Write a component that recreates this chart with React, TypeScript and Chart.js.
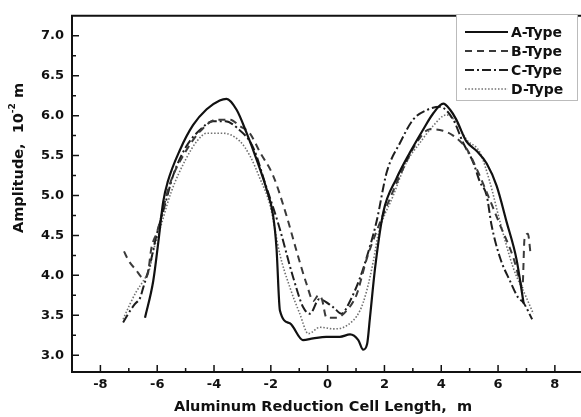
import React, { useEffect, useRef } from 'react';
import { Chart, registerables } from 'chart.js';
Chart.register(...registerables);

const seriesNames = ['A-Type', 'B-Type', 'C-Type', 'D-Type'];

const aX = [-6.43, -6.14, -5.96, -5.79, -5.63, -5.2, -4.74, -4.26, -3.8, -3.56, -3.2, -2.85, -2.5, -2.15, -1.92, -1.8, -1.68, -1.33, -0.87, -0.51, -0.05, 0.43, 0.79, 1.08, 1.25, 1.39, 1.49, 1.67, 1.96, 2.42, 2.9, 3.37, 3.72, 4.07, 4.3, 4.53, 4.88, 5.24, 5.6, 5.95, 6.3, 6.65, 6.9];
const aY = [3.47, 3.93, 4.42, 4.92, 5.17, 5.57, 5.88, 6.08, 6.19, 6.21, 6.07, 5.78, 5.45, 5.08, 4.75, 4.34, 3.56, 3.4, 3.19, 3.21, 3.23, 3.23, 3.26, 3.19, 3.07, 3.14, 3.47, 4.09, 4.79, 5.21, 5.54, 5.83, 6.03, 6.15, 6.08, 5.95, 5.68, 5.56, 5.4, 5.12, 4.67, 4.2, 3.65];

const bX = [-7.17, -7.0, -6.75, -6.5, -6.35, -6.2, -6.0, -5.55, -5.0, -4.5, -3.91, -3.44, -3.09, -2.74, -2.38, -1.92, -1.45, -1.09, -0.74, -0.5, -0.33, -0.2, -0.04, 0.32, 0.67, 1.02, 1.37, 1.72, 2.19, 2.65, 3.13, 3.6, 4.06, 4.42, 4.9, 5.25, 5.6, 6.07, 6.54, 6.77, 6.86, 6.93, 7.05, 7.15];
const bY = [4.3, 4.18, 4.07, 3.97, 4.0, 4.35, 4.55, 5.15, 5.55, 5.8, 5.95, 5.95, 5.87, 5.78, 5.54, 5.25, 4.75, 4.3, 3.89, 3.68, 3.75, 3.7, 3.47, 3.47, 3.56, 3.76, 4.2, 4.55, 4.96, 5.33, 5.66, 5.83, 5.81, 5.75, 5.58, 5.33, 5.04, 4.63, 4.22, 3.93, 3.85, 4.45, 4.52, 4.25];

const cX = [-7.2, -7.02, -6.79, -6.6, -6.49, -6.32, -6.2, -6.08, -5.96, -5.73, -5.44, -5.0, -4.5, -4.03, -3.6, -3.2, -2.62, -2.2, -1.74, -1.21, -0.86, -0.62, -0.3, 0.2, 0.49, 0.79, 1.14, 1.37, 1.72, 2.08, 2.55, 3.01, 3.49, 3.95, 4.42, 4.77, 5.13, 5.36, 5.6, 5.77, 6.07, 6.42, 6.71, 6.89, 7.2];
const cY = [3.41, 3.52, 3.64, 3.72, 3.85, 4.05, 4.22, 4.42, 4.59, 4.88, 5.25, 5.6, 5.82, 5.93, 5.93, 5.85, 5.6, 5.15, 4.65, 3.97, 3.6, 3.52, 3.7, 3.6, 3.52, 3.68, 3.97, 4.22, 4.67, 5.29, 5.66, 5.95, 6.07, 6.11, 5.95, 5.66, 5.41, 5.17, 5.0, 4.63, 4.22, 3.93, 3.72, 3.66, 3.45];

const dX = [-7.2, -6.96, -6.73, -6.49, -6.26, -6.14, -5.96, -5.5, -5.0, -4.6, -4.26, -3.68, -3.09, -2.74, -2.38, -2.03, -1.68, -1.33, -0.98, -0.68, -0.27, 0.2, 0.67, 1.14, 1.37, 1.61, 1.78, 2.31, 2.77, 3.25, 3.71, 4.18, 4.54, 4.89, 5.36, 5.71, 6.07, 6.54, 7.0, 7.24];
const dY = [3.45, 3.64, 3.8, 3.93, 4.09, 4.3, 4.51, 5.05, 5.45, 5.68, 5.78, 5.78, 5.68, 5.5, 5.21, 4.88, 4.26, 3.85, 3.52, 3.27, 3.35, 3.33, 3.37, 3.56, 3.8, 4.18, 4.51, 5.0, 5.41, 5.66, 5.87, 6.01, 5.91, 5.7, 5.54, 5.17, 4.67, 4.09, 3.72, 3.52];

const xTickValues = [-8, -6, -4, -2, 0, 2, 4, 6, 8];
const xMinorValues = [-7, -5, -3, -1, 1, 3, 5, 7];
const yTickValues = [3.0, 3.5, 4.0, 4.5, 5.0, 5.5, 6.0, 6.5, 7.0];
const yMinorValues = [3.25, 3.75, 4.25, 4.75, 5.25, 5.75, 6.25, 6.75];

const xTitle = 'Aluminum Reduction Cell Length,  m';
const yTitleMain = 'Amplitude,  10';
const yTitleSup = '-2';
const yTitleUnit = ' m';

const FONT = '"DejaVu Sans", "Liberation Sans", Arial, sans-serif';

const styles = [
  { color: '#111111', width: 2.2, dash: [] as number[] },
  { color: '#3a3a3a', width: 2, dash: [7, 5] },
  { color: '#1e1e1e', width: 2, dash: [9, 3, 2, 3] },
  { color: '#707070', width: 1.6, dash: [1.5, 1.8] },
];

const pts = (xs: number[], ys: number[]) => xs.map((x, i) => ({ x, y: ys[i] }));

const framePlugin = {
  id: 'frame',
  afterDraw(chart: any) {
    const { ctx, chartArea: ca, scales } = chart;
    const xs = scales.x;
    const ys = scales.y;
    ctx.save();
    ctx.strokeStyle = '#111';
    ctx.lineWidth = 2;
    ctx.setLineDash([]);
    ctx.beginPath();
    ctx.moveTo(chart.width, ca.top);
    ctx.lineTo(ca.left, ca.top);
    ctx.lineTo(ca.left, ca.bottom);
    ctx.lineTo(chart.width, ca.bottom);
    ctx.stroke();
    ctx.lineWidth = 1.5;
    ctx.beginPath();
    xTickValues.forEach((v) => {
      const p = xs.getPixelForValue(v);
      ctx.moveTo(p, ca.bottom);
      ctx.lineTo(p, ca.bottom - 7);
    });
    xMinorValues.forEach((v) => {
      const p = xs.getPixelForValue(v);
      ctx.moveTo(p, ca.bottom);
      ctx.lineTo(p, ca.bottom - 4);
    });
    yTickValues.forEach((v) => {
      const p = ys.getPixelForValue(v);
      ctx.moveTo(ca.left, p);
      ctx.lineTo(ca.left + 7, p);
    });
    yMinorValues.forEach((v) => {
      const p = ys.getPixelForValue(v);
      ctx.moveTo(ca.left, p);
      ctx.lineTo(ca.left + 4, p);
    });
    ctx.stroke();

    // axis titles
    ctx.fillStyle = '#111';
    ctx.font = `bold 14.5px ${FONT}`;
    ctx.textAlign = 'center';
    ctx.textBaseline = 'middle';
    ctx.fillText(xTitle, 323, 407);

    ctx.save();
    ctx.translate(19, 158);
    ctx.rotate(-Math.PI / 2);
    ctx.font = `bold 14.5px ${FONT}`;
    const w1 = ctx.measureText(yTitleMain).width;
    ctx.font = `bold 9px ${FONT}`;
    const w2 = ctx.measureText(yTitleSup).width;
    ctx.font = `bold 14.5px ${FONT}`;
    const w3 = ctx.measureText(yTitleUnit).width;
    const total = w1 + w2 + w3;
    let x0 = -total / 2;
    ctx.textAlign = 'left';
    ctx.fillText(yTitleMain, x0, 0);
    x0 += w1;
    ctx.font = `bold 9px ${FONT}`;
    ctx.fillText(yTitleSup, x0, -6);
    x0 += w2;
    ctx.font = `bold 14.5px ${FONT}`;
    ctx.fillText(yTitleUnit, x0, 0);
    ctx.restore();

    // legend
    ctx.fillStyle = '#fff';
    ctx.fillRect(456, 14, 122, 87);
    ctx.strokeStyle = '#777';
    ctx.lineWidth = 1;
    ctx.setLineDash([1, 1]);
    ctx.strokeRect(456.5, 14.5, 121, 86);
    const rows = [32, 51, 70, 89];
    seriesNames.forEach((name, i) => {
      const st = styles[i];
      ctx.strokeStyle = st.color;
      ctx.lineWidth = st.width;
      ctx.setLineDash(st.dash);
      ctx.beginPath();
      ctx.moveTo(465, rows[i]);
      ctx.lineTo(508, rows[i]);
      ctx.stroke();
      ctx.setLineDash([]);
      ctx.fillStyle = '#111';
      ctx.font = `bold 14px ${FONT}`;
      ctx.textAlign = 'left';
      ctx.textBaseline = 'middle';
      ctx.fillText(name, 511, rows[i] + 1);
    });
    ctx.restore();
  },
};

export default function App() {
  const ref = useRef<HTMLCanvasElement>(null);
  useEffect(() => {
    document.body.style.margin = '0';
    const canvas = ref.current;
    if (!canvas) return;
    const allSeries = [pts(aX, aY), pts(bX, bY), pts(cX, cY), pts(dX, dY)];
    const chart = new Chart(canvas, {
      type: 'line',
      data: {
        datasets: seriesNames.map((name, i) => ({
          label: name,
          data: allSeries[i],
          borderColor: styles[i].color,
          borderWidth: styles[i].width,
          borderDash: styles[i].dash,
          pointRadius: 0,
          fill: false,
          cubicInterpolationMode: 'monotone' as const,
        })),
      },
      options: {
        responsive: false,
        animation: false,
        layout: { padding: { top: 12, left: 0, right: 0, bottom: 0 } },
        plugins: { legend: { display: false }, tooltip: { enabled: false } },
        scales: {
          x: {
            type: 'linear',
            min: -9,
            max: 8.92,
            afterFit: (s: any) => {
              s.height = 45;
            },
            afterBuildTicks: (s: any) => {
              s.ticks = xTickValues.map((v) => ({ value: v }));
            },
            grid: { display: false, drawTicks: false },
            border: { display: false },
            ticks: {
              padding: 5,
              maxRotation: 0,
              autoSkip: false,
              color: '#111',
              font: { family: FONT, size: 13, weight: 'bold' },
              callback: (v: any) => String(v),
            },
          },
          y: {
            type: 'linear',
            min: 2.79,
            max: 7.25,
            afterFit: (s: any) => {
              s.width = 72;
            },
            afterBuildTicks: (s: any) => {
              s.ticks = yTickValues.map((v) => ({ value: v }));
            },
            grid: { display: false, drawTicks: false },
            border: { display: false },
            ticks: {
              padding: 8,
              autoSkip: false,
              color: '#111',
              font: { family: FONT, size: 13, weight: 'bold' },
              callback: (v: any) => Number(v).toFixed(1),
            },
          },
        },
      },
      plugins: [framePlugin],
    });
    return () => chart.destroy();
  }, []);
  return <canvas ref={ref} width={581} height={417} style={{ display: 'block' }} />;
}
